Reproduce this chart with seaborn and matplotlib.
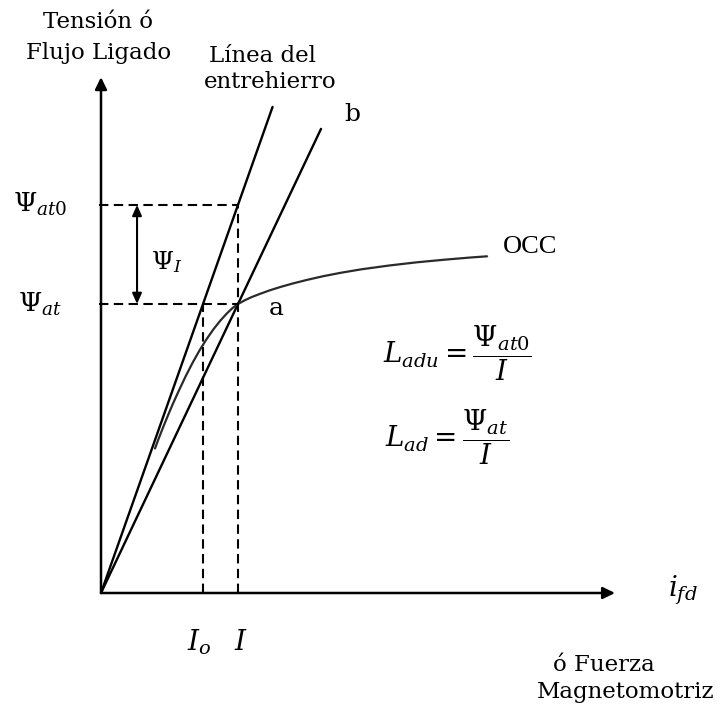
import matplotlib
matplotlib.use("Agg")
import matplotlib.pyplot as plt
import seaborn as sns

# Operating point (normalised: field current I = 1, air-gap flux Psi_at = 1)
I_op = 1.0
psi_at = 1.0
psi_at0 = 1.343

# upper ends of the straight lines (flux level)
airgap_top = 1.682
lineb_top = 1.606

# open-circuit characteristic (OCC): field current vs. flux linkage
occ_ifd = [0.394, 0.42, 0.453, 0.49, 0.526, 0.57, 0.62, 0.67, 0.72, 0.77,
           0.82, 0.87, 0.92, 0.96, 1.00, 1.05, 1.10, 1.16, 1.23, 1.31,
           1.40, 1.50, 1.62, 1.75, 1.90, 2.10, 2.30, 2.50, 2.70, 2.818]
occ_psi = [0.500, 0.533, 0.573, 0.616, 0.656, 0.702, 0.752, 0.798, 0.840,
           0.878, 0.912, 0.942, 0.968, 0.986, 1.000, 1.013, 1.024, 1.035,
           1.047, 1.059, 1.071, 1.083, 1.096, 1.108, 1.120, 1.133, 1.144,
           1.153, 1.161, 1.165]

# extent of the drawn axes
axis_x_end = 3.752
axis_y_end = 1.785

sns.set_theme(style="white")
plt.rcParams["font.family"] = ["DejaVu Serif", "DejaVu Sans"]
plt.rcParams["mathtext.fontset"] = "dejavuserif"

# derived quantities
slope_airgap = psi_at0 / I_op
slope_b = psi_at / I_op
I_o = psi_at / slope_airgap

fig = plt.figure(figsize=(7.23, 7.06), dpi=100)
ax = fig.add_axes([0, 0, 1, 1])
# origin sits 101 px from the left and 113 px from the bottom
ax.set_xlim(-101 / 137, 622 / 137)
ax.set_ylim(-113 / 289, 593 / 289)
ax.axis("off")

# coordinate axes with arrow heads
head = "-|>,head_length=0.45,head_width=0.22"
for tip in [(0, axis_y_end), (axis_x_end, 0)]:
    ax.annotate("", xy=tip, xytext=(0, 0),
                arrowprops=dict(arrowstyle=head, lw=1.8, color="black",
                                mutation_scale=16, shrinkA=0, shrinkB=0))

# air-gap line and line b through the origin
sns.lineplot(x=[0, airgap_top / slope_airgap], y=[0, airgap_top],
             color="black", linewidth=1.7, sort=False, estimator=None, ax=ax)
sns.lineplot(x=[0, lineb_top / slope_b], y=[0, lineb_top],
             color="black", linewidth=1.7, sort=False, estimator=None, ax=ax)

# OCC
sns.lineplot(x=occ_ifd, y=occ_psi, color="#2a2a2a", linewidth=1.6,
             sort=False, estimator=None, ax=ax)

# dashed construction lines
dash = (0, (4.5, 2.6))
for xs, ys in [([-0.015, I_op], [psi_at0, psi_at0]),
               ([-0.015, I_op], [psi_at, psi_at]),
               ([I_op, I_op], [0, psi_at0]),
               ([I_o, I_o], [0, psi_at])]:
    sns.lineplot(x=xs, y=ys, color="black", linewidth=1.5, linestyle=dash,
                 sort=False, estimator=None, ax=ax)

# Psi_I double arrow between the two flux levels
ax.annotate("", xy=(0.263, psi_at), xytext=(0.263, psi_at0),
            arrowprops=dict(arrowstyle="<|-|>,head_length=0.45,head_width=0.2",
                            lw=1.5, color="black", mutation_scale=14,
                            shrinkA=0, shrinkB=0))

txt = dict(color="black", ha="center", va="center")
ax.text(-0.022, 1.976, "Tensión ó", fontsize=16.5, **txt)
ax.text(-0.015, 1.869, "Flujo Ligado", fontsize=16.5, **txt)
ax.text(1.182, 1.858, "Línea del", fontsize=16.5, **txt)
ax.text(1.234, 1.768, "entrehierro", fontsize=16.5, **txt)
ax.text(1.832, 1.654, "b", fontsize=18, **txt)
ax.text(1.277, 0.985, "a", fontsize=18, **txt)
ax.text(3.131, 1.197, "OCC", fontsize=19, family="Liberation Serif", **txt)

ax.text(-0.445, psi_at0, r"$\Psi_{at0}$", fontsize=19, **txt)
ax.text(-0.445, psi_at, r"$\Psi_{at}$", fontsize=19, **txt)
ax.text(0.482, 1.145, r"$\Psi_{I}$", fontsize=18, **txt)

ax.text(2.599, 0.830, r"$L_{adu} = \dfrac{\Psi_{at0}}{I}$", fontsize=20, **txt)
ax.text(2.526, 0.540, r"$L_{ad} = \dfrac{\Psi_{at}}{I}$", fontsize=20, **txt)

ax.text(4.248, 0.010, r"$i_{fd}$", fontsize=20, **txt)
ax.text(I_o - 0.03, -0.170, r"$I_o$", fontsize=20, **txt)
ax.text(I_op + 0.02, -0.170, r"$I$", fontsize=20, **txt)

ax.text(3.67, -0.250, "ó Fuerza", fontsize=16.5, **txt)
ax.text(3.83, -0.342, "Magnetomotriz", fontsize=16.5, **txt)

fig.savefig("out.png", dpi=100, facecolor="white")
